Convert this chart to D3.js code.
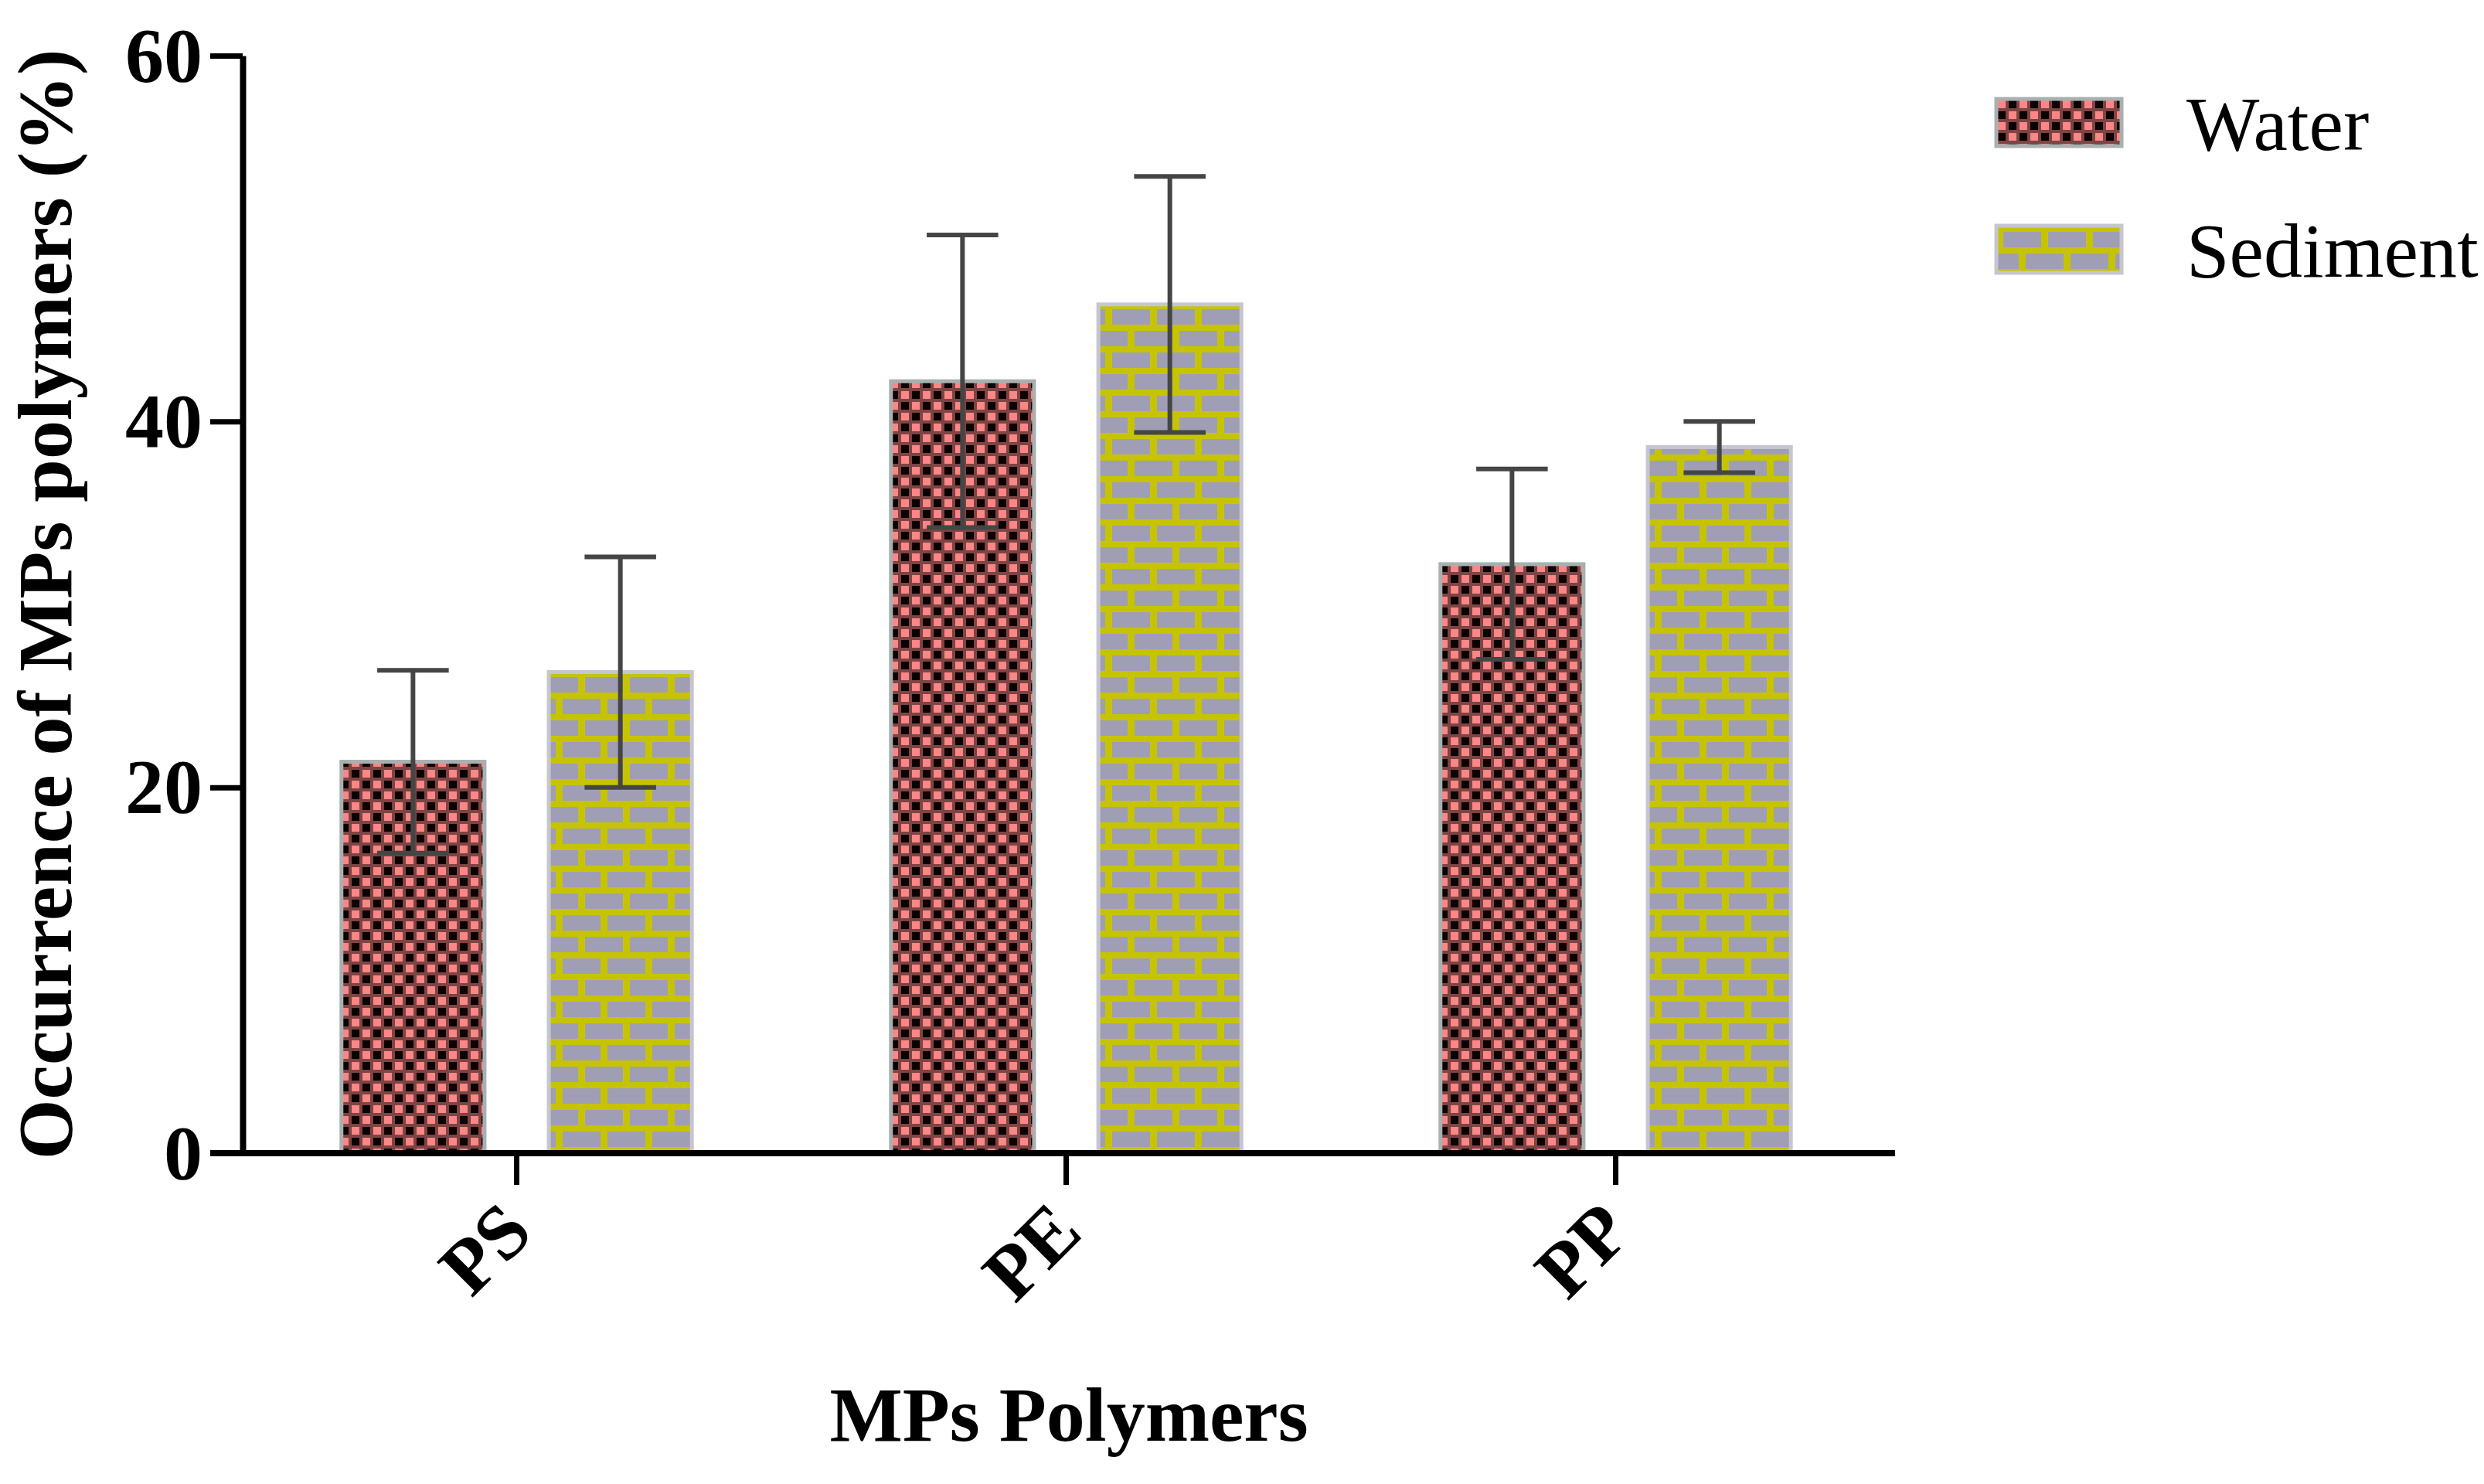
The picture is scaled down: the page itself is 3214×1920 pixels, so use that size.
<!DOCTYPE html>
<html><head><meta charset="utf-8">
<script src="https://cdn.jsdelivr.net/npm/d3@7"></script>
<style>html,body{margin:0;padding:0;background:#fff;} svg{display:block;}</style>
</head><body>
<script>
const categories = ["PS", "PE", "PP"];
const seriesNames = ["Water", "Sediment"];
const waterMeans = [21.4, 42.2, 32.2];
const waterErrors = [5.0, 8.0, 5.2];
const sedimentMeans = [26.3, 46.4, 38.6];
const sedimentErrors = [6.3, 7.0, 1.4];
const yTickValues = [0, 20, 40, 60];
const yDomain = [0, 60];
const xTitle = "MPs Polymers";
const yTitle = "Occurrence of MPs polymers (%)";

const W = 3214, H = 1920;
const FONT = "'Liberation Serif','Times New Roman',serif";
const svg = d3.select("body").append("svg").attr("width", W).attr("height", H);
svg.append("rect").attr("width", W).attr("height", H).attr("fill", "#fff");
const defs = svg.append("defs");

// Water: checker pattern
const pw = defs.append("pattern").attr("id", "pat-water").attr("patternUnits", "userSpaceOnUse").attr("width", 28).attr("height", 28);
pw.append("rect").attr("width", 28).attr("height", 28).attr("fill", "#7d4444");
[[0,0,"#ff8686"],[14,0,"#0c0000"],[0,14,"#0c0000"],[14,14,"#ff8686"]].forEach(([px,py,c]) =>
  pw.append("rect").attr("x", px + 2).attr("y", py + 2).attr("width", 10).attr("height", 10).attr("fill", c));

// Sediment: brick pattern
const ps = defs.append("pattern").attr("id", "pat-sed").attr("patternUnits", "userSpaceOnUse").attr("width", 58).attr("height", 56);
ps.append("rect").attr("width", 58).attr("height", 56).attr("fill", "#c6c400");
ps.append("rect").attr("x", 9).attr("y", 8).attr("width", 49).attr("height", 20).attr("fill", "#a09eb4");
ps.append("rect").attr("x", 0).attr("y", 36).attr("width", 29).attr("height", 20).attr("fill", "#a09eb4");
ps.append("rect").attr("x", 38).attr("y", 36).attr("width", 20).attr("height", 20).attr("fill", "#a09eb4");

const fills = { Water: "url(#pat-water)", Sediment: "url(#pat-sed)" };
const strokes = { Water: "#a8b0b0", Sediment: "#c6c6d2" };

const x0 = d3.scaleBand().domain(categories).range([313, 2446]);
const x1 = d3.scaleBand().domain(seriesNames).range([0, x0.bandwidth()]).paddingInner(0.31).paddingOuter(0.48);
const y = d3.scaleLinear().domain(yDomain).range([1492, 72]);

const table = categories.map((c, i) => ({
  cat: c,
  vals: [
    { s: "Water", m: waterMeans[i], e: waterErrors[i] },
    { s: "Sediment", m: sedimentMeans[i], e: sedimentErrors[i] }
  ]
}));

const groups = svg.append("g").selectAll("g").data(table).join("g")
  .attr("transform", d => `translate(${x0(d.cat)},0)`);

groups.selectAll("rect.bar").data(d => d.vals).join("rect").attr("class", "bar")
  .attr("x", d => x1(d.s)).attr("width", x1.bandwidth())
  .attr("y", d => y(d.m)).attr("height", d => y(0) - y(d.m))
  .attr("fill", d => fills[d.s]).attr("stroke", d => strokes[d.s]).attr("stroke-width", 5);

const eb = groups.selectAll("g.err").data(d => d.vals).join("g").attr("class", "err")
  .attr("stroke", "#454545").attr("stroke-width", 6);
eb.append("line")
  .attr("x1", d => x1(d.s) + x1.bandwidth() / 2).attr("x2", d => x1(d.s) + x1.bandwidth() / 2)
  .attr("y1", d => y(d.m - d.e)).attr("y2", d => y(d.m + d.e));
eb.append("line")
  .attr("x1", d => x1(d.s) + x1.bandwidth() / 4).attr("x2", d => x1(d.s) + x1.bandwidth() * 3 / 4)
  .attr("y1", d => y(d.m + d.e)).attr("y2", d => y(d.m + d.e));
eb.append("line")
  .attr("x1", d => x1(d.s) + x1.bandwidth() / 4).attr("x2", d => x1(d.s) + x1.bandwidth() * 3 / 4)
  .attr("y1", d => y(d.m - d.e)).attr("y2", d => y(d.m - d.e));

// Y axis
const yAxis = svg.append("g").attr("transform", "translate(314,0)")
  .call(d3.axisLeft(y).tickValues(yTickValues).tickSize(42).tickSizeOuter(0).tickPadding(10));
yAxis.select(".domain").attr("stroke", "#000").attr("stroke-width", 8);
yAxis.selectAll(".tick line").attr("stroke", "#000").attr("stroke-width", 7);
yAxis.selectAll(".tick text").attr("font-family", FONT).attr("font-size", 100).attr("font-weight", "bold").attr("fill", "#000");

// X axis
const xAxis = svg.append("g").attr("transform", `translate(0,${y(0)})`)
  .call(d3.axisBottom(x0).tickSize(41).tickSizeOuter(0));
xAxis.select(".domain").remove();
xAxis.selectAll(".tick line").attr("stroke", "#000").attr("stroke-width", 7);
xAxis.selectAll(".tick text").attr("font-family", FONT).attr("font-size", 100).attr("font-weight", "bold").attr("fill", "#000")
  .attr("x", 0).attr("y", 0).attr("dy", 0).attr("text-anchor", "end")
  .attr("transform", "translate(24,106) rotate(-45)");
svg.append("line").attr("x1", 272).attr("x2", 2452).attr("y1", y(0)).attr("y2", y(0))
  .attr("stroke", "#000").attr("stroke-width", 8);

// Titles
svg.append("text").attr("transform", `translate(92,${(y(0) + y(60)) / 2}) rotate(-90)`)
  .attr("text-anchor", "middle").attr("font-family", FONT).attr("font-size", 100).attr("font-weight", "bold")
  .text(yTitle);
svg.append("text").attr("x", 1383).attr("y", 1864).attr("text-anchor", "middle")
  .attr("font-family", FONT).attr("font-size", 100).attr("font-weight", "bold").text(xTitle);

// Legend
const legY = [128, 292];
const leg = svg.append("g").selectAll("g").data(seriesNames).join("g")
  .attr("transform", (d, i) => `translate(2583,${legY[i]})`);
leg.append("rect").attr("width", 162).attr("height", 61).attr("fill", d => fills[d])
  .attr("stroke", d => strokes[d]).attr("stroke-width", 5);
leg.append("text").attr("x", 246).attr("y", 66).attr("font-family", FONT).attr("font-size", 100)
  .attr("fill", "#000").text(d => d);
</script>
</body></html>
